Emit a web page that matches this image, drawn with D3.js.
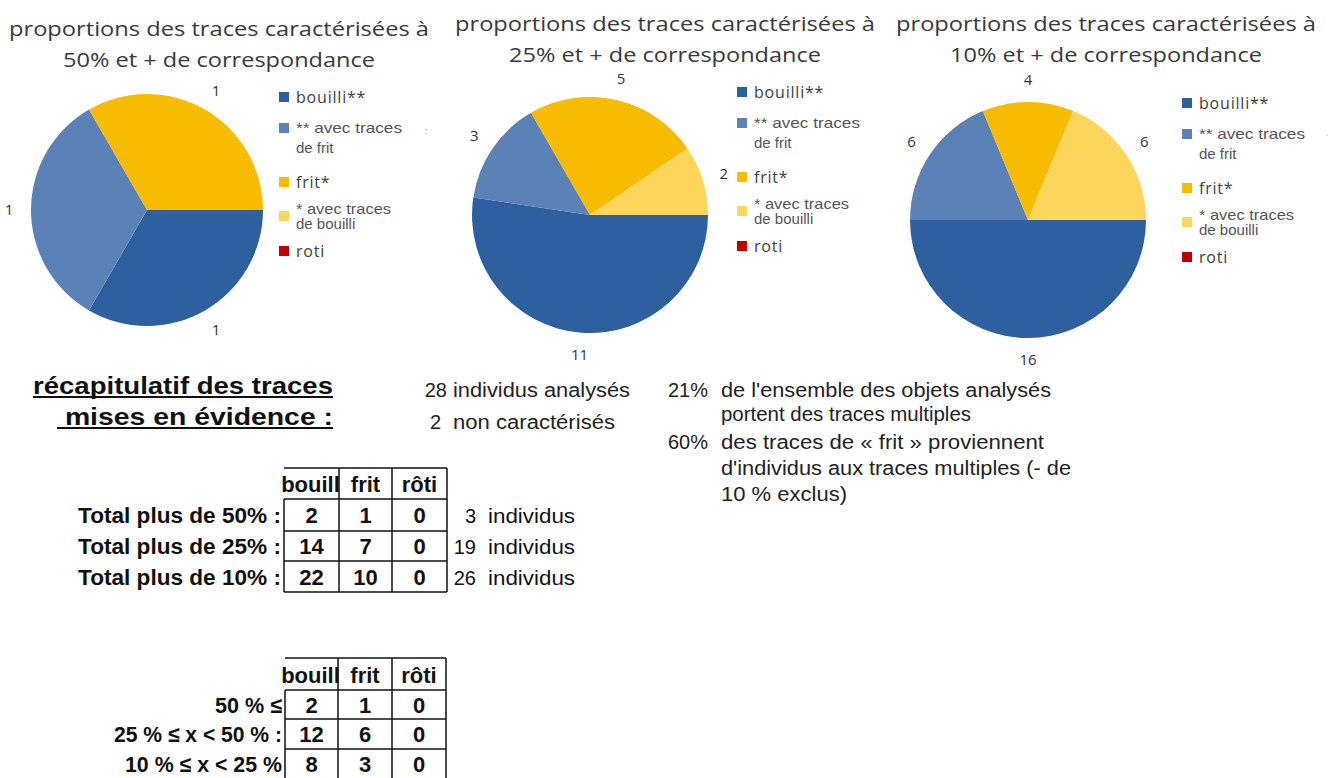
<!DOCTYPE html>
<html>
<head>
<meta charset="utf-8">
<script src="https://cdn.jsdelivr.net/npm/d3@7"></script>
<style>
  body { margin: 0; background: #fff; }
  svg { display: block; }
</style>
</head>
<body>
<div id="chart"></div>
<script>
// legend categories and pie values
var categories = ["bouilli**", "** avec traces de frit", "frit*", "* avec traces de bouilli", "roti"];
var colors = ["#2e5f9e", "#5b82b6", "#f7bb00", "#fcd65a", "#c00000"];
var pie50 = [1, 1, 1, 0, 0];
var pie25 = [11, 3, 5, 2, 0];
var pie10 = [16, 6, 4, 6, 0];
var pieTitles = ["50% et + de correspondance", "25% et + de correspondance", "10% et + de correspondance"];

// recap tables
var colHeaders = ["bouill", "frit", "rôti"];
var totalLabels = ["Total plus de 50% :", "Total plus de 25% :", "Total plus de 10% :"];
var totalValues = [[2, 1, 0], [14, 7, 0], [22, 10, 0]];
var totalIndividus = [3, 19, 26];
var rangeLabels = ["50 % ≤", "25 % ≤ x < 50 % :", "10 % ≤ x < 25 %"];
var rangeValues = [[2, 1, 0], [12, 6, 0], [8, 3, 0]];

var W = 1333, H = 778;
var svg = d3.select("#chart").append("svg").attr("width", W).attr("height", H);

// ---------- pies ----------
var pieLayout = [
  {values: pie50, cx: 147, cy: 210, r: 116, tx: 219, ty: 36, legX: 279, legY: 97},
  {values: pie25, cx: 590, cy: 215, r: 118, tx: 665, ty: 31, legX: 737, legY: 92},
  {values: pie10, cx: 1028, cy: 220, r: 118, tx: 1106, ty: 31, legX: 1182, legY: 103}
];

var pie = d3.pie().sort(null).startAngle(Math.PI / 2).endAngle(Math.PI / 2 + 2 * Math.PI);

pieLayout.forEach(function(p, i) {
  var g = svg.append("g");

  g.append("text")
    .attr("x", p.tx).attr("y", p.ty)
    .attr("text-anchor", "middle")
    .attr("textLength", 420).attr("lengthAdjust", "spacingAndGlyphs")
    .style("font-family", "'Open Sans'").style("font-size", "20px").style("fill", "#3a3a3a")
    .text("proportions des traces caractérisées à");
  g.append("text")
    .attr("x", p.tx).attr("y", p.ty + 31)
    .attr("text-anchor", "middle")
    .attr("textLength", 312).attr("lengthAdjust", "spacingAndGlyphs")
    .style("font-family", "'Open Sans'").style("font-size", "20px").style("fill", "#3a3a3a")
    .text(pieTitles[i]);

  var arc = d3.arc().innerRadius(0).outerRadius(p.r);
  var labelArc = d3.arc().innerRadius(p.r + 22).outerRadius(p.r + 22);
  var arcs = pie(p.values);

  var pg = g.append("g").attr("transform", "translate(" + p.cx + "," + p.cy + ")");
  pg.selectAll("path")
    .data(arcs)
    .enter()
    .append("path")
    .attr("d", arc)
    .attr("fill", function(d, k) { return colors[k]; });

  pg.selectAll("text")
    .data(arcs.filter(function(d) { return d.value > 0; }))
    .enter()
    .append("text")
    .attr("transform", function(d) { return "translate(" + labelArc.centroid(d) + ")"; })
    .attr("dy", "0.35em")
    .attr("text-anchor", "middle")
    .style("font-family", "'Open Sans'").style("font-size", "15px").style("fill", "#333")
    .text(function(d) { return d.value; });

  // legend
  var offs = [0, 31, 85, 112, 154];
  var lg = g.append("g").attr("transform", "translate(" + p.legX + "," + p.legY + ")");
  categories.forEach(function(c, k) {
    var y = offs[k];
    var twoLines = c.indexOf("avec") >= 0;
    var sqY = (k == 3) ? y + 7 : y;
    lg.append("rect")
      .attr("x", 0).attr("y", sqY - 5).attr("width", 10).attr("height", 10)
      .attr("fill", colors[k]);
    if (twoLines) {
      var parts = c.split(" de ");
      lg.append("text")
        .attr("x", 17).attr("y", y + 5)
        .attr("textLength", k == 1 ? 106 : 95).attr("lengthAdjust", "spacingAndGlyphs")
        .style("font-family", "'Liberation Sans'").style("font-size", "15px").style("fill", "#555")
        .text(parts[0]);
      lg.append("text")
        .attr("x", 17).attr("y", y + (k == 1 ? 25 : 20))
        .style("font-family", "'Liberation Sans'").style("font-size", "15px").style("fill", "#555")
        .text("de " + parts[1]);
    } else {
      lg.append("text")
        .attr("x", 17).attr("y", y + 6)
        .style("font-family", "'Open Sans'").style("font-size", "16px").style("letter-spacing", "0.8px")
        .style("fill", "#404040")
        .text(c);
    }
  });
});

// small stray marks
svg.append("text").attr("x", 425).attr("y", 134).style("font-size", "10px").style("fill", "#999").text(":");
svg.append("text").attr("x", 1326).attr("y", 136).style("font-size", "10px").style("fill", "#bbb").text(".");

// ---------- recap heading ----------
var head = svg.append("g")
  .style("font-family", "'Liberation Sans'").style("font-weight", "bold").style("font-size", "24px").style("fill", "#111");
[["récapitulatif des traces", 394, 300], [" mises en évidence :", 425, 276]].forEach(function(h) {
  head.append("text").attr("x", 333).attr("y", h[1]).attr("text-anchor", "end")
    .attr("xml:space", "preserve")
    .attr("textLength", h[2]).attr("lengthAdjust", "spacingAndGlyphs")
    .text(h[0]);
  head.append("line")
    .attr("x1", 333 - h[2]).attr("x2", 333)
    .attr("y1", h[1] + 3).attr("y2", h[1] + 3)
    .attr("stroke", "#111").attr("stroke-width", 1.8);
});

// ---------- notes ----------
var notes = svg.append("g")
  .style("font-family", "'Liberation Sans'").style("font-size", "20px").style("fill", "#222");
notes.append("text").attr("x", 447).attr("y", 397).attr("text-anchor", "end").text("28");
notes.append("text").attr("x", 453).attr("y", 397).attr("textLength", 177).attr("lengthAdjust", "spacingAndGlyphs").text("individus analysés");
notes.append("text").attr("x", 441).attr("y", 429).attr("text-anchor", "end").text("2");
notes.append("text").attr("x", 453).attr("y", 429).attr("textLength", 162).attr("lengthAdjust", "spacingAndGlyphs").text("non caractérisés");

var noteLines = [
  ["21%", "de l'ensemble des objets analysés", 397, 330],
  ["", "portent des traces multiples", 421, 250],
  ["60%", "des traces de « frit » proviennent", 449, 323],
  ["", "d'individus aux traces multiples (- de", 475, 350],
  ["", "10 % exclus)", 501, 126]
];
noteLines.forEach(function(n) {
  if (n[0]) notes.append("text").attr("x", 668).attr("y", n[2]).attr("textLength", 40).attr("lengthAdjust", "spacingAndGlyphs").text(n[0]);
  notes.append("text").attr("x", 721).attr("y", n[2])
    .attr("textLength", n[3]).attr("lengthAdjust", "spacingAndGlyphs").text(n[1]);
});

// ---------- tables ----------
function drawTable(rowLabels, labelW, values, cols, rows, extra, closed) {
  var g = svg.append("g")
    .style("font-family", "'Liberation Sans'").style("font-weight", "bold").style("font-size", "22px").style("fill", "#111");
  var x = d3.scaleOrdinal().domain(colHeaders).range(cols.slice(0, 3));
  var colW = function(k) { return cols[k + 1] - cols[k]; };
  var last = rows[rows.length - 1];

  // grid lines
  var hLines = closed ? rows : rows.slice(0, -1);
  hLines.forEach(function(y) {
    g.append("line").attr("x1", cols[0]).attr("x2", cols[3]).attr("y1", y).attr("y2", y);
  });
  g.append("line").attr("x1", cols[0]).attr("x2", cols[0]).attr("y1", rows[1]).attr("y2", last);
  cols.slice(1).forEach(function(cx) {
    g.append("line").attr("x1", cx).attr("x2", cx).attr("y1", rows[0]).attr("y2", last);
  });
  g.selectAll("line").attr("stroke", "#111").attr("stroke-width", 1.5);

  // header
  colHeaders.forEach(function(h, k) {
    g.append("text")
      .attr("x", x(h) + colW(k) / 2 + (k == 0 ? -1 : 0)).attr("y", rows[1] - 7)
      .attr("text-anchor", "middle")
      .text(h);
  });

  rowLabels.forEach(function(lab, r) {
    var yMid = (rows[r + 1] + rows[r + 2]) / 2;
    g.append("text").attr("x", cols[0] - 3).attr("y", yMid + 8).attr("text-anchor", "end")
      .attr("textLength", labelW[r]).attr("lengthAdjust", "spacingAndGlyphs")
      .text(lab);
    values[r].forEach(function(v, k) {
      g.append("text")
        .attr("x", x(colHeaders[k]) + colW(k) / 2).attr("y", yMid + 8)
        .attr("text-anchor", "middle")
        .text(v);
    });
    if (extra) {
      g.append("text").attr("x", 476).attr("y", yMid + 8).attr("text-anchor", "end")
        .style("font-weight", "normal").style("font-size", "20px").text(extra[r]);
      g.append("text").attr("x", 488).attr("y", yMid + 8)
        .attr("textLength", 87).attr("lengthAdjust", "spacingAndGlyphs")
        .style("font-weight", "normal").style("font-size", "20px").text("individus");
    }
  });
}

drawTable(totalLabels, [203, 203, 203], totalValues, [284, 339, 392, 447], [468, 499, 531, 561, 592], totalIndividus, true);
drawTable(rangeLabels, [67, 168, 157], rangeValues, [285, 338, 392, 446], [658, 690, 719, 749, 779], null, false);
</script>
</body>
</html>
